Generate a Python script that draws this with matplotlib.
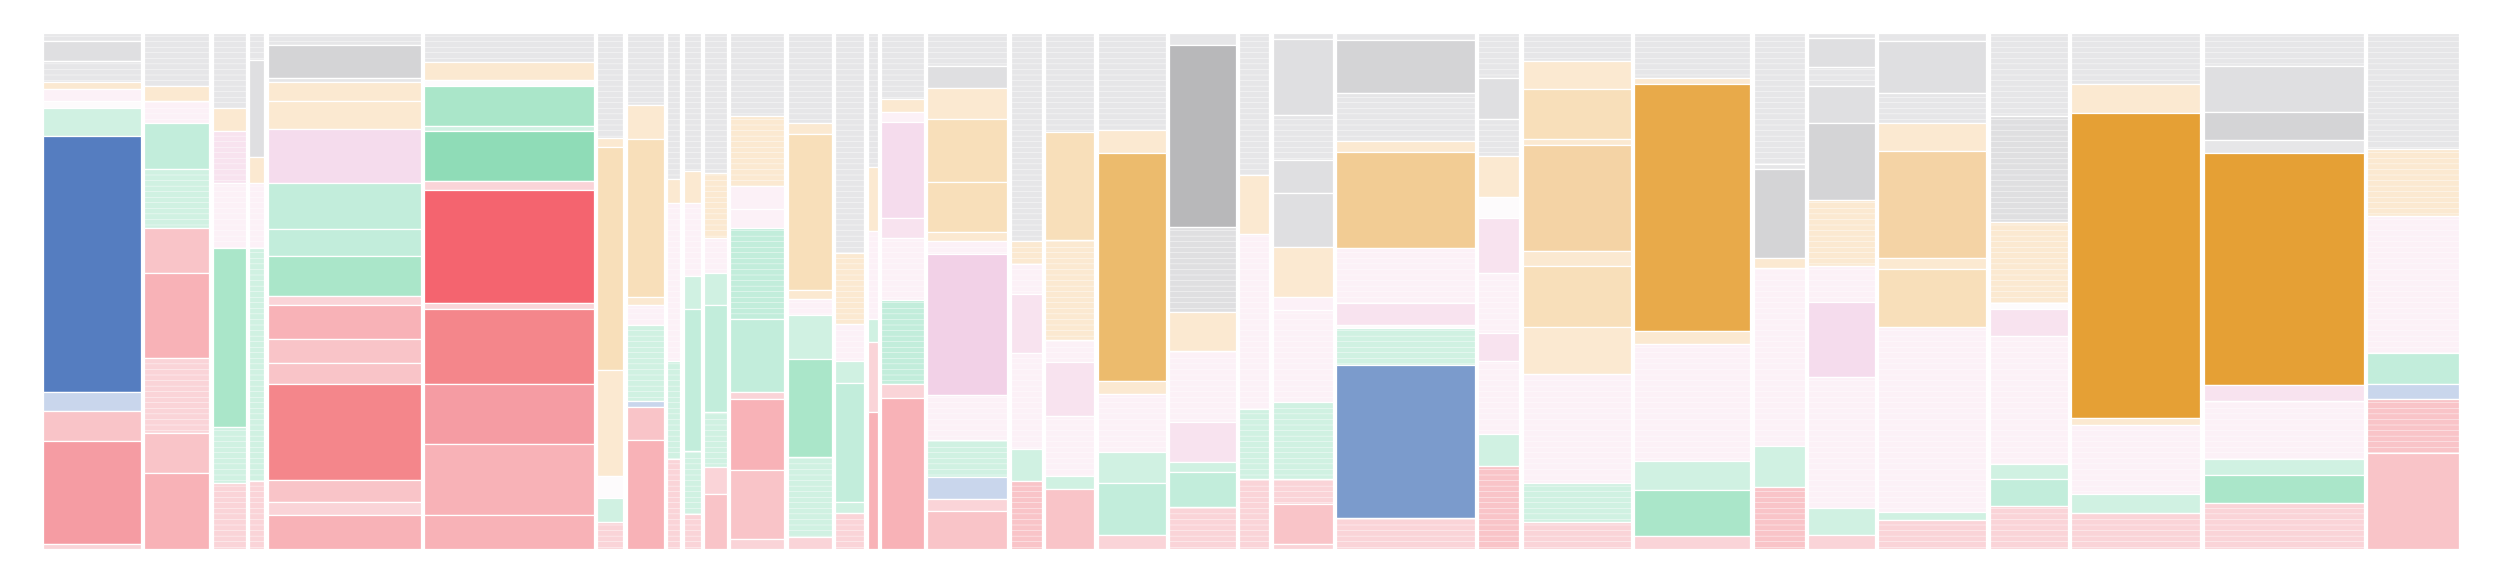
import matplotlib
matplotlib.use("Agg")
import matplotlib.pyplot as plt

# Column widths (relative share of total)
widths = [98, 65, 33, 15, 153, 170, 26, 37, 13, 17, 23, 54, 44, 29, 10, 43, 80, 31,
          49, 68, 67, 30, 60, 139, 41, 108, 116, 51, 67, 108, 78, 129, 160, 92]

# Each column: stacked segments from top, (family+shade, percent, striated)
stacks = [
    [("g1",1.6,1),("g2",3.9,0),("g1",4.0,1),("o1",1.4,0),("p1",2.2,0),("w",1.5,0),("G1",5.4,0),("b3",49.6,0),("b1",3.6,0),("r2",5.8,0),("r4",20.1,0),("r1",0.9,0)],
    [("g1",10.2,1),("o1",2.9,0),("p1",4.4,1),("G2",8.9,0),("G1",11.4,1),("r2",8.8,0),("r3",16.3,0),("r1",14.7,1),("r2",7.6,0),("r3",14.8,0)],
    [("g1",14.5,1),("o1",4.5,0),("p2",10.0,1),("p1",12.7,1),("G3",34.6,0),("G1",10.9,1),("r1",12.8,1)],
    [("g1",5.2,1),("g2",18.8,0),("o1",5.0,0),("p1",12.7,1),("G1",45.2,1),("r1",13.1,1)],
    [("g1",2.3,1),("g3",6.5,0),("g1",0.7,0),("o1",3.6,0),("o1",5.5,0),("p3",10.4,0),("G2",9.0,0),("G2",5.3,0),("G3",7.6,0),("r1",1.9,0),("r3",6.5,0),("r2",4.6,0),("r2",4.1,0),("r5",18.7,0),("r2",4.1,0),("r1",2.6,0),("r3",6.6,0)],
    [("g1",5.6,1),("o1",3.6,0),("w",1.1,0),("G3",7.8,0),("G1",0.8,0),("G4",9.8,0),("r1",1.8,0),("r6",21.9,0),("r1",1.1,0),("r5",14.6,0),("r4",11.5,0),("r3",13.8,0),("r3",6.6,0)],
    [("g1",20.3,1),("o1",1.8,0),("o2",43.2,0),("o1",20.5,0),("w",4.3,0),("G1",4.6,0),("r1",5.3,1)],
    [("g1",13.9,1),("o1",6.7,0),("o2",30.6,0),("o1",1.5,0),("p1",3.8,1),("G1",14.9,1),("b1",1.0,0),("r2",6.5,0),("r3",21.1,0)],
    [("g1",28.2,1),("o1",4.7,0),("p1",30.6,1),("G1",19.0,1),("r1",17.5,1)],
    [("g1",26.8,1),("o1",6.1,0),("p1",14.2,1),("G1",6.3,0),("G2",27.7,0),("G1",12.2,1),("r1",6.7,1)],
    [("g1",27.1,1),("o1",12.6,1),("p1",6.9,1),("G1",6.1,0),("G2",20.8,0),("G1",10.6,1),("r1",5.3,0),("r2",10.6,0)],
    [("g1",16.0,1),("o1",13.6,1),("p1",4.6,0),("p1",3.6,0),("G2",17.7,1),("G2",14.1,0),("r1",1.4,0),("r3",13.7,0),("r2",13.3,0),("r1",2.0,0)],
    [("g1",17.4,1),("o1",2.2,0),("o2",30.2,0),("o1",1.8,0),("p1",3.0,1),("G1",8.5,0),("G3",19.1,0),("G1",15.5,1),("r1",2.3,0)],
    [("g1",42.6,1),("o1",13.7,1),("p1",7.2,1),("G1",4.3,0),("G2",23.0,0),("G1",2.2,0),("r1",7.0,1)],
    [("g1",26.0,1),("o1",12.3,0),("p1",17.2,1),("G1",4.4,0),("r1",13.6,0),("r3",26.5,0)],
    [("g1",12.7,1),("o1",2.6,0),("p1",1.9,0),("p3",18.7,0),("p2",3.8,0),("p1",12.0,1),("G2",16.4,1),("r1",2.6,0),("r3",29.3,0)],
    [("g1",6.3,1),("g2",4.3,0),("o1",6.1,0),("o2",12.1,0),("o2",9.8,0),("o1",1.8,0),("p1",2.4,1),("p4",27.4,0),("p1",8.7,1),("G1",7.2,1),("b1",4.3,0),("r1",2.2,0),("r2",7.4,0)],
    [("g1",40.4,1),("o1",4.3,1),("p1",5.8,1),("p2",11.5,0),("p1",18.7,1),("G1",6.1,0),("r2",13.2,1)],
    [("g1",19.2,1),("o2",20.9,0),("o1",19.4,1),("p1",4.3,1),("p2",10.4,0),("p1",11.6,1),("G1",2.6,0),("r2",11.6,0)],
    [("g1",18.8,1),("o1",4.4,0),("o5",44.2,0),("o1",2.5,0),("p1",11.3,1),("G1",6.0,0),("G2",10.1,0),("r1",2.7,0)],
    [("g1",2.4,0),("g4",35.1,0),("g2",16.6,1),("o1",7.6,0),("p1",13.7,1),("p2",7.8,0),("G1",1.8,0),("G2",6.9,0),("r1",8.1,1)],
    [("g1",27.5,1),("o1",11.5,0),("p1",33.9,1),("G1",13.6,1),("r1",13.5,1)],
    [("g1",1.2,0),("g2",14.6,0),("g1",8.8,1),("g2",6.5,0),("g2",10.4,0),("o1",9.7,0),("p1",2.5,0),("p1",17.8,1),("G1",15.0,1),("r1",4.7,1),("r2",7.9,0),("r1",0.9,0)],
    [("g1",1.4,0),("g3",10.3,0),("g1",9.2,1),("o1",2.1,0),("o4",18.7,0),("p1",10.6,1),("p2",4.2,0),("w",0.6,0),("G1",7.2,1),("b2",29.7,0),("r1",6.0,1)],
    [("g1",8.8,1),("g2",7.9,0),("g1",7.2,1),("o1",7.9,0),("w",4.0,0),("p2",10.7,0),("p1",11.6,1),("p2",5.4,0),("p1",14.3,1),("G1",6.2,0),("r2",16.0,1)],
    [("g1",5.5,1),("o1",5.4,0),("o2",9.7,0),("o1",1.1,0),("o3",20.5,0),("o1",2.9,0),("o2",11.9,0),("o1",9.0,0),("p1",21.2,1),("G1",7.5,1),("r1",5.3,1)],
    [("g1",8.8,1),("o1",1.1,0),("o6",47.9,0),("o1",2.4,0),("p1",22.7,1),("G1",5.7,0),("G3",8.8,0),("r1",2.6,0)],
    [("g1",25.3,1),("g1",1.0,0),("g3",17.4,0),("o1",1.8,0),("p1",34.5,1),("G1",7.9,0),("r2",12.1,1)],
    [("g1",0.9,0),("g2",5.7,0),("g1",3.6,1),("g2",7.3,0),("g3",14.8,0),("o1",12.8,1),("p1",7.0,1),("p3",14.6,0),("p1",25.4,1),("G1",5.2,0),("r1",2.7,0)],
    [("g1",1.6,0),("g2",10.1,0),("g1",5.8,1),("o1",5.3,0),("o3",20.9,0),("o1",2.1,0),("o2",11.2,0),("p1",35.9,1),("G1",1.5,0),("r1",5.6,1)],
    [("g1",16.0,1),("g2",20.6,1),("o1",15.7,1),("w",1.1,0),("p2",5.4,0),("p1",24.8,1),("G1",2.9,0),("G2",5.2,0),("r1",8.3,1)],
    [("g1",9.9,1),("o1",5.7,0),("o7",59.0,0),("o1",1.4,0),("p1",13.4,1),("G1",3.6,0),("r1",7.0,1)],
    [("g1",6.3,1),("g2",9.0,0),("g3",5.4,0),("g1",2.5,0),("o7",45.0,0),("p2",3.2,0),("p1",11.1,1),("G1",3.2,0),("G3",5.4,0),("r1",8.9,1)],
    [("g1",22.4,1),("o1",13.0,1),("p1",26.6,1),("G2",6.1,0),("b1",2.9,0),("r2",10.4,1),("r2",18.6,0)],
]

palette = {
    "w": "#fdfbfc",
    "g1": "#e6e6e8", "g2": "#dfdfe1", "g3": "#d4d4d6", "g4": "#b8b8ba",
    "o1": "#fbe9d1", "o2": "#f8dfba", "o3": "#f4d3a5", "o4": "#f2cc94",
    "o5": "#ecbb6d", "o6": "#e8aa4a", "o7": "#e5a035",
    "p1": "#fcf1f7", "p2": "#f8e3ef", "p3": "#f5dced", "p4": "#f2d1e7",
    "G1": "#d0f1e2", "G2": "#c2eddb", "G3": "#aae6c9", "G4": "#8fdcb7",
    "r1": "#fad4d8", "r2": "#f9c4c8", "r3": "#f8b2b7", "r4": "#f59ca3",
    "r5": "#f4868b", "r6": "#f4646f",
    "b1": "#c9d6ec", "b2": "#7b9bcc", "b3": "#557dc0",
}

plt.rcParams["hatch.linewidth"] = 0.3

fig = plt.figure(figsize=(25, 5.82), dpi=100)
fig.patch.set_facecolor("white")
ax = fig.add_axes([43 / 2500, 1 - 549 / 582, (2459 - 43) / 2500, (549 - 33) / 582])

gap = 3.4
x = 0.0
for w, segs in zip(widths, stacks):
    total = sum(s[1] for s in segs)
    bottom = 0.0
    for key, val, striped in segs:
        h = val * 100.0 / total
        ax.bar(x, h, bottom=bottom, width=w, align="edge",
               color=palette[key], edgecolor="white", linewidth=0.9,
               hatch="---" if striped else None)
        bottom += h
    x += w + gap

ax.set_xlim(0, x - gap)
ax.set_ylim(100, 0)
ax.axis("off")
fig.savefig("out.png", dpi=100, facecolor="white")
